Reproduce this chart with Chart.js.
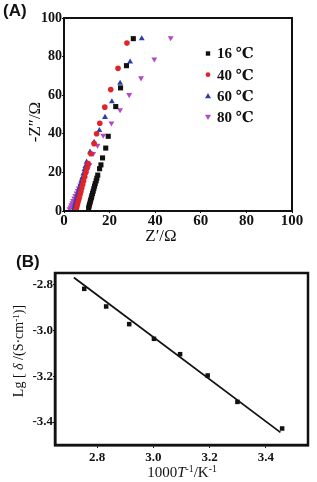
<!DOCTYPE html>
<html>
<head>
<meta charset="utf-8">
<script src="https://cdn.jsdelivr.net/npm/chart.js@4"></script>
<style>
  body { margin: 0; background: #fff; }
  #wrap { position: relative; width: 317px; height: 482px; overflow: hidden; }
  canvas { position: absolute; left: 0; }
  .lbl { position: absolute; white-space: nowrap; color: #111; }
  .serif { font-family: "Liberation Serif", "DejaVu Serif", serif; }
  .rot { transform: translate(-50%, -50%) rotate(-90deg); }
  .ctr { transform: translate(-50%, -50%); }
  sup { font-size: 65%; vertical-align: 0.45em; line-height: 0; }
</style>
</head>
<body>
<div id="wrap">
  <canvas id="chartA" width="317" height="241" style="top:0"></canvas>
  <canvas id="chartB" width="317" height="241" style="top:241px"></canvas>

  <div class="lbl" style="left:3px;top:1px;font:bold 17px 'Liberation Sans',Arial,sans-serif;">(A)</div>
  <div class="lbl serif rot" style="left:35px;top:122px;font-size:17px;">-Z″/Ω</div>
  <div class="lbl serif ctr" style="left:161px;top:236px;font-size:17px;">Z′/Ω</div>

  <div class="lbl" style="left:16px;top:252px;font:bold 17px 'Liberation Sans',Arial,sans-serif;">(B)</div>
  <div class="lbl serif rot" style="left:19px;top:351px;font-size:14px;">Lg [ <i>δ</i> /(S·cm<sup>-1</sup>)]</div>
  <div class="lbl serif ctr" style="left:182px;top:472px;font-size:15px;">1000<i>T</i><sup>-1</sup>/K<sup>-1</sup></div>
</div>

<script>
// (A) impedancia, Z' vs -Z''
const ticksA = [0, 20, 40, 60, 80, 100];
const seriesNames = ['16 ℃', '40 ℃', '60 ℃', '80 ℃'];

const t16x = [10.8, 11.0, 11.2, 11.5, 11.7, 12.0, 12.2, 12.5, 12.8, 13.1, 13.4, 13.7, 14.1, 14.4, 14.8, 15.6, 16.2, 16.9, 18.3, 19.4, 22.7, 24.8, 27.4, 30.4];
const t16y = [1.5, 2.5, 3.5, 4.6, 5.7, 6.8, 7.9, 9.1, 10.3, 11.6, 12.9, 14.2, 15.6, 17.0, 18.6, 21.9, 23.9, 27.5, 32.6, 38.7, 54.1, 63.8, 75.3, 89.3];

const t40x = [5.3, 5.6, 5.9, 6.2, 6.5, 6.8, 7.1, 7.4, 7.8, 8.2, 8.6, 9.1, 9.6, 10.1, 10.6, 11.8, 13.2, 14.3, 15.7, 17.9, 20.5, 23.7, 27.6];
const t40y = [0.8, 2.1, 3.4, 4.8, 6.1, 7.4, 8.8, 10.1, 11.9, 13.7, 15.5, 17.7, 20.0, 22.3, 24.6, 29.7, 34.9, 40.0, 45.5, 53.8, 62.9, 73.9, 87.0];

const t60x = [4.2, 4.5, 4.8, 5.1, 5.4, 5.7, 6.0, 6.4, 6.8, 7.2, 7.6, 8.0, 8.5, 9.0, 9.4, 9.9, 11.4, 13.2, 15.5, 18.0, 21.0, 24.6, 29.0, 34.1];
const t60y = [0.8, 2.1, 3.4, 4.7, 6.0, 7.3, 8.6, 10.3, 12.0, 13.7, 15.5, 17.2, 19.3, 21.5, 23.2, 25.4, 30.6, 35.7, 41.8, 48.6, 56.7, 66.3, 77.3, 89.3];

const t80x = [2.4, 2.8, 3.2, 3.6, 4.0, 4.5, 5.0, 5.5, 6.0, 6.5, 7.1, 7.7, 8.3, 9.0, 9.7, 10.4, 11.2, 12.8, 14.7, 17.2, 20.8, 24.6, 28.6, 33.8, 39.6, 46.8];
const t80y = [1.0, 2.0, 3.1, 4.2, 5.3, 6.6, 7.9, 9.2, 10.5, 11.8, 13.4, 14.9, 16.5, 18.2, 20.0, 21.8, 23.9, 29.7, 34.0, 39.2, 45.5, 52.4, 60.2, 68.9, 78.7, 89.7];

// (B) Arrhenius
const ticksBx = [2.8, 3.0, 3.2, 3.4];
const ticksBy = [-3.4, -3.2, -3.0, -2.8];
const invT = [2.754, 2.832, 2.914, 3.002, 3.095, 3.193, 3.299, 3.458];
const lgSigma = [-2.819, -2.896, -2.973, -3.037, -3.104, -3.197, -3.312, -3.428];
const fitX = [2.717, 3.452];
const fitY = [-2.770, -3.445];

const toPts = (xs, ys) => xs.map((x, i) => ({ x: x, y: ys[i] }));
const tickFont = { family: "'Liberation Serif', 'DejaVu Serif', serif", weight: 'bold' };

// marco negro alrededor del area
const framePlugin = {
    id: 'frame',
    afterDraw(chart, args, opts) {
        const a = chart.chartArea;
        const ctx = chart.ctx;
        ctx.save();
        ctx.strokeStyle = '#111';
        ctx.lineWidth = opts.width || 2;
        ctx.strokeRect(a.left, a.top, a.right - a.left, a.bottom - a.top);
        ctx.restore();
    }
};

// leyenda dentro del grafico
const insideLegend = {
    id: 'insideLegend',
    afterDraw(chart) {
        const ctx = chart.ctx;
        ctx.save();
        chart.data.datasets.forEach((ds, i) => {
            const y = 53.5 + i * 21.2;
            const x = 208;
            const r = 3;
            ctx.fillStyle = ds.backgroundColor;
            ctx.beginPath();
            if (ds.pointStyle === 'rect') {
                ctx.rect(x - 2.2, y - 2.2, 4.4, 4.4);
            } else if (ds.pointStyle === 'circle') {
                ctx.arc(x, y, 2.4, 0, Math.PI * 2);
            } else if (ds.pointRotation === 180) {
                ctx.moveTo(x - r, y - r * 0.8);
                ctx.lineTo(x + r, y - r * 0.8);
                ctx.lineTo(x, y + r);
            } else {
                ctx.moveTo(x - r, y + r * 0.8);
                ctx.lineTo(x + r, y + r * 0.8);
                ctx.lineTo(x, y - r);
            }
            ctx.closePath();
            ctx.fill();
            ctx.fillStyle = '#111';
            ctx.font = "bold 15px 'Liberation Serif', 'DejaVu Serif', serif";
            ctx.textBaseline = 'middle';
            ctx.textAlign = 'left';
            ctx.fillText(ds.label, 217, y + 1);
        });
        ctx.restore();
    }
};

const ctxA = document.getElementById('chartA').getContext('2d');
new Chart(ctxA, {
    type: 'scatter',
    data: {
        datasets: [{
            label: seriesNames[0],
            data: toPts(t16x, t16y),
            backgroundColor: '#111111',
            pointStyle: 'rect',
            pointRadius: 3.6
        }, {
            label: seriesNames[1],
            data: toPts(t40x, t40y),
            backgroundColor: '#e0242c',
            pointStyle: 'circle',
            pointRadius: 2.8
        }, {
            label: seriesNames[2],
            data: toPts(t60x, t60y),
            backgroundColor: '#2c3ea8',
            pointStyle: 'triangle',
            pointRadius: 3.4
        }, {
            label: seriesNames[3],
            data: toPts(t80x, t80y),
            backgroundColor: '#b447c6',
            pointStyle: 'triangle',
            pointRotation: 180,
            pointRadius: 3.4
        }]
    },
    options: {
        responsive: false,
        animation: false,
        devicePixelRatio: 1,
        layout: { padding: { left: 0, top: 18, right: 25, bottom: 0 } },
        elements: { point: { borderWidth: 0, hoverRadius: 3 } },
        plugins: {
            legend: { display: false },
            tooltip: { enabled: false },
            frame: { width: 2 }
        },
        scales: {
            x: {
                min: 0,
                max: 100,
                afterBuildTicks: s => { s.ticks = ticksA.map(v => ({ value: v })); },
                afterFit: s => { s.height = 30; },
                grid: { drawOnChartArea: false, tickLength: 2, color: '#111' },
                border: { display: true, color: '#111', width: 2 },
                ticks: { color: '#111', font: { ...tickFont, size: 15 }, padding: -1, maxRotation: 0 }
            },
            y: {
                min: 0,
                max: 100,
                afterBuildTicks: s => { s.ticks = ticksA.map(v => ({ value: v })); },
                afterFit: s => { s.width = 64; },
                grid: { drawOnChartArea: false, tickLength: 2, color: '#111' },
                border: { display: true, color: '#111', width: 2 },
                ticks: { color: '#111', font: { ...tickFont, size: 14 }, padding: 0 }
            }
        }
    },
    plugins: [framePlugin, insideLegend]
});

const ctxB = document.getElementById('chartB').getContext('2d');
new Chart(ctxB, {
    type: 'scatter',
    data: {
        datasets: [{
            label: 'datos',
            data: toPts(invT, lgSigma),
            backgroundColor: '#111111',
            pointStyle: 'rect',
            pointRadius: 3.2
        }, {
            label: 'ajuste',
            data: toPts(fitX, fitY),
            showLine: true,
            borderColor: '#111111',
            borderWidth: 1.8,
            pointRadius: 0
        }]
    },
    options: {
        responsive: false,
        animation: false,
        devicePixelRatio: 1,
        layout: { padding: { left: 0, top: 32, right: 9, bottom: 0 } },
        elements: { point: { borderWidth: 0, hoverRadius: 3 } },
        plugins: {
            legend: { display: false },
            tooltip: { enabled: false },
            frame: { width: 2.5 }
        },
        scales: {
            x: {
                min: 2.65,
                max: 3.55,
                afterBuildTicks: s => { s.ticks = ticksBx.map(v => ({ value: v })); },
                afterFit: s => { s.height = 37; },
                grid: { drawOnChartArea: false, tickLength: 3, color: '#111' },
                border: { display: true, color: '#111', width: 2.5 },
                ticks: { color: '#111', font: { ...tickFont, size: 13 }, padding: 2, maxRotation: 0,
                         callback: v => v.toFixed(1) }
            },
            y: {
                min: -3.5,
                max: -2.75,
                afterBuildTicks: s => { s.ticks = ticksBy.map(v => ({ value: v })); },
                afterFit: s => { s.width = 55; },
                grid: { drawOnChartArea: false, tickLength: 2, color: '#111' },
                border: { display: true, color: '#111', width: 2.5 },
                ticks: { color: '#111', font: { ...tickFont, size: 13 }, padding: 0,
                         callback: v => v.toFixed(1) }
            }
        }
    },
    plugins: [framePlugin]
});
</script>
</body>
</html>
